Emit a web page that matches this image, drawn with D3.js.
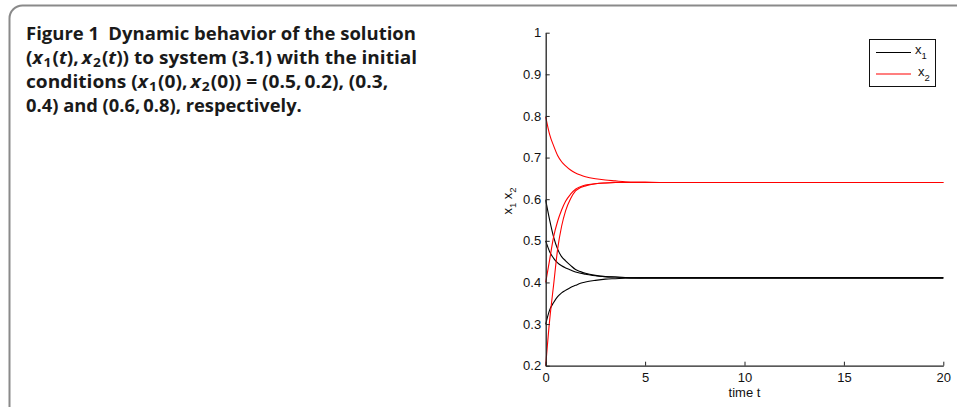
<!DOCTYPE html>
<html><head><meta charset="utf-8">
<script src="https://cdn.jsdelivr.net/npm/d3@7"></script>
<style>body{margin:0;background:#fff}svg{display:block}</style>
</head><body>
<svg id="c" width="957" height="407"></svg>
<script>
const timeT = [0, 0.2, 0.4, 0.6, 0.8, 1.0, 1.25, 1.5, 1.75, 2, 2.5, 3, 3.5, 4, 5, 6, 8, 10, 15, 20];
const x1_a = [0.500,0.474,0.458,0.447,0.440,0.435,0.430,0.425,0.422,0.420,0.416,0.414,0.413,0.412,0.411,0.411,0.411,0.411,0.411,0.411];
const x1_b = [0.300,0.334,0.352,0.366,0.375,0.381,0.388,0.393,0.398,0.401,0.405,0.408,0.409,0.410,0.411,0.411,0.411,0.411,0.411,0.411];
const x1_c = [0.598,0.550,0.509,0.480,0.462,0.452,0.441,0.431,0.426,0.422,0.417,0.414,0.413,0.412,0.411,0.411,0.411,0.411,0.411,0.411];
const x2_a = [0.200,0.310,0.395,0.480,0.535,0.572,0.601,0.620,0.628,0.632,0.637,0.639,0.640,0.640,0.640,0.640,0.640,0.640,0.640,0.640];
const x2_b = [0.400,0.455,0.510,0.547,0.574,0.595,0.612,0.624,0.630,0.634,0.637,0.639,0.640,0.640,0.640,0.640,0.640,0.640,0.640,0.640];
const x2_c = [0.798,0.755,0.728,0.705,0.690,0.680,0.670,0.663,0.658,0.654,0.649,0.646,0.644,0.642,0.641,0.640,0.640,0.640,0.640,0.640];
const xTicks = [0, 5, 10, 15, 20];
const yTicks = [0.2, 0.3, 0.4, 0.5, 0.6, 0.7, 0.8, 0.9, 1];
const seriesX1 = [x1_a, x1_b, x1_c];
const seriesX2 = [x2_a, x2_b, x2_c];

const svg = d3.select("#c");
svg.append("rect").attr("x", 9.5).attr("y", 5.5).attr("width", 1000).attr("height", 500)
  .attr("rx", 13).attr("fill", "none").attr("stroke", "#8a8a8a").attr("stroke-width", 2);

// caption
const cap = svg.append("g").style("font-family", "'Open Sans', sans-serif").style("font-weight", "bold")
  .style("font-size", "18px").attr("fill", "#1a1a1a");
const th = "\u2009";
const lines = [
  {y: 40, w: 390, parts: [["Figure 1\u2002Dynamic behavior of the solution"]]},
  {y: 64, w: 387, parts: [["("],["x","i"],["1","s"],["("],["t","i"],[")," + th],["x","i"],["2","s"],["("],["t","i"],[")) to system (3.1) with the initial"]]},
  {y: 88, w: 358, parts: [["conditions ("],["x","i"],["1","s"],["(0)," + th],["x","i"],["2","s"],["(0)) = (0.5," + th + "0.2), (0.3,"]]},
  {y: 112, w: 276, parts: [["0.4) and (0.6," + th + "0.8), respectively."]]}
];
lines.forEach(L => {
  const t = cap.append("text").attr("x", 0).attr("y", 0);
  let prevSub = false;
  L.parts.forEach(p => {
    const ts = t.append("tspan").text(p[0]);
    if (p[1] === "i") ts.style("font-style", "italic");
    if (p[1] === "s") { ts.style("font-size", "13px").attr("dy", 3).attr("dx", 1); prevSub = true; }
    else if (prevSub) { ts.attr("dy", -3).attr("dx", 1); prevSub = false; }
  });
  const w = t.node().getComputedTextLength();
  const sx = w > 0 ? L.w / w : 1;
  t.attr("transform", `translate(26,${L.y}) scale(${sx},1)`);
});

// chart
const x = d3.scaleLinear().domain([0, 20]).range([545.7, 943.3]);
const y = d3.scaleLinear().domain([0.2, 1]).range([365.7, 32.7]);
const font = "'Liberation Sans', Arial, sans-serif";

const line = d3.line().x((d, i) => x(timeT[i])).y(d => y(d)).curve(d3.curveMonotoneX);
const plot = svg.append("g");
seriesX1.forEach(s => plot.append("path").attr("d", line(s)).attr("fill", "none").attr("stroke", "#000").attr("stroke-width", 1.1));
seriesX2.forEach(s => plot.append("path").attr("d", line(s)).attr("fill", "none").attr("stroke", "#ff0000").attr("stroke-width", 1.1));

const xa = svg.append("g").attr("transform", `translate(0,${y(0.2)})`)
  .call(d3.axisBottom(x).tickValues(xTicks).tickSizeInner(-4).tickSizeOuter(0).tickPadding(7.5));
const ya = svg.append("g").attr("transform", `translate(${x(0)},0)`)
  .call(d3.axisLeft(y).tickValues(yTicks).tickFormat(d3.format("")).tickSizeInner(-4).tickSizeOuter(0).tickPadding(4.5));
[xa, ya].forEach(a => {
  a.attr("font-size", null).attr("font-family", null);
  a.selectAll("path").attr("stroke", "#222").attr("stroke-width", 1.3);
  a.selectAll("line").attr("stroke", "#222").attr("stroke-width", 1);
  a.selectAll("text").style("font-family", font).style("font-size", "13px").attr("fill", "#111");
});

svg.append("text").attr("x", x(10)).attr("y", 396.5).attr("text-anchor", "middle")
  .style("font-family", font).style("font-size", "13px").attr("fill", "#111").text("time t");

const yl = svg.append("text").attr("transform", `translate(512,201) rotate(-90)`)
  .attr("text-anchor", "middle").style("font-family", font).style("font-size", "13px").attr("fill", "#111");
yl.append("tspan").text("x");
yl.append("tspan").style("font-size", "9.5px").attr("dy", 4).text("1");
yl.append("tspan").attr("dy", -4).text(" x");
yl.append("tspan").style("font-size", "9.5px").attr("dy", 4).text("2");

// legend
const lg = svg.append("g");
lg.append("rect").attr("x", 869.5).attr("y", 39.5).attr("width", 66).attr("height", 47)
  .attr("fill", "#fff").attr("stroke", "#111").attr("stroke-width", 1);
const legendItems = [{name: "1", color: "#000000", yy: 52.5, tx: 915, ty: 54.3}, {name: "2", color: "#ff0000", yy: 74, tx: 918, ty: 75.5}];
legendItems.forEach(it => {
  lg.append("line").attr("x1", 876).attr("x2", 911).attr("y1", it.yy).attr("y2", it.yy)
    .style("stroke", it.color).attr("stroke-width", 1.2);
  const t = lg.append("text").attr("x", it.tx).attr("y", it.ty)
    .style("font-family", font).style("font-size", "13px").attr("fill", "#111");
  t.append("tspan").text("x");
  t.append("tspan").style("font-size", "9.5px").attr("dy", 5).text(it.name);
});
</script>
</body></html>
